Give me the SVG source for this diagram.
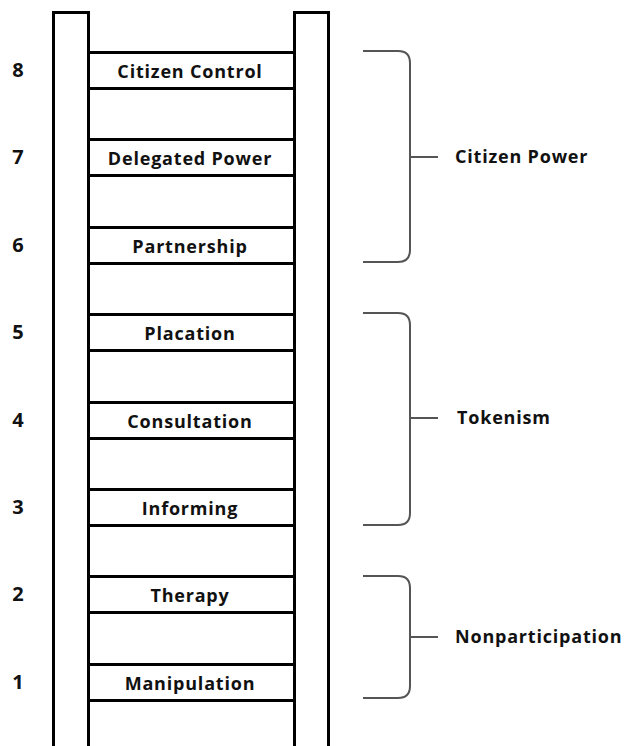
<svg xmlns="http://www.w3.org/2000/svg" width="628" height="746" viewBox="0 0 628 746">
<style>
.rail{fill:#fff;stroke:#000;stroke-width:3}
.rung{fill:#fff;stroke:#000;stroke-width:3}
.lbl{font-family:"Open Sans","Liberation Sans",sans-serif;font-weight:700;font-size:18px;letter-spacing:0.8px;fill:#111;text-anchor:middle}
.num{font-family:"Open Sans","Liberation Sans",sans-serif;font-weight:700;font-size:20px;fill:#111;text-anchor:middle}
.grp{font-family:"Open Sans","Liberation Sans",sans-serif;font-weight:700;font-size:18px;letter-spacing:0.8px;fill:#111}
.brace{fill:none;stroke:#555;stroke-width:2}
</style>
<rect x="0" y="0" width="628" height="746" fill="#fff"/>
<g id="ladder">
<rect class="rail" x="53.5" y="12.5" width="35" height="760"/>
<rect class="rail" x="294.5" y="12.5" width="34" height="760"/>
</g>
<g id="rung8"><rect class="rung" x="88.5" y="52.5" width="206" height="36"/><text class="lbl" x="190" y="78">Citizen Control</text><text class="num" x="18" y="77">8</text></g>
<g id="rung7"><rect class="rung" x="88.5" y="139.5" width="206" height="36"/><text class="lbl" x="190" y="165">Delegated Power</text><text class="num" x="18" y="164">7</text></g>
<g id="rung6"><rect class="rung" x="88.5" y="227.5" width="206" height="36"/><text class="lbl" x="190" y="253">Partnership</text><text class="num" x="18" y="252">6</text></g>
<g id="rung5"><rect class="rung" x="88.5" y="314.5" width="206" height="36"/><text class="lbl" x="190" y="340">Placation</text><text class="num" x="18" y="339">5</text></g>
<g id="rung4"><rect class="rung" x="88.5" y="402.5" width="206" height="36"/><text class="lbl" x="190" y="428">Consultation</text><text class="num" x="18" y="427">4</text></g>
<g id="rung3"><rect class="rung" x="88.5" y="489.5" width="206" height="36"/><text class="lbl" x="190" y="515">Informing</text><text class="num" x="18" y="514">3</text></g>
<g id="rung2"><rect class="rung" x="88.5" y="576.5" width="206" height="36"/><text class="lbl" x="190" y="602">Therapy</text><text class="num" x="18" y="601">2</text></g>
<g id="rung1"><rect class="rung" x="88.5" y="664.5" width="206" height="36"/><text class="lbl" x="190" y="690">Manipulation</text><text class="num" x="18" y="689">1</text></g>
<g id="connectors">
<path class="brace" d="M363 51 H398 Q410 51 410 63 V250 Q410 262 398 262 H363 M410 157 H438"/>
<path class="brace" d="M363 313 H398 Q410 313 410 325 V513 Q410 525 398 525 H363 M410 418 H438"/>
<path class="brace" d="M363 576 H398 Q410 576 410 588 V686 Q410 698 398 698 H363 M410 637 H438"/>
</g>
<g id="citizen-power"><text class="grp" x="455" y="163">Citizen Power</text></g>
<g id="tokenism"><text class="grp" x="457" y="424">Tokenism</text></g>
<g id="nonparticipation"><text class="grp" x="455" y="643">Nonparticipation</text></g>
</svg>
